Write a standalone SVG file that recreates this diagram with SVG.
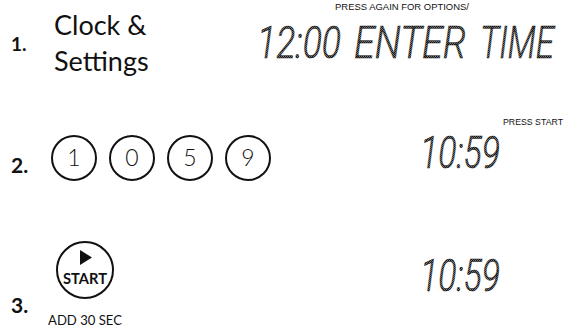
<svg xmlns="http://www.w3.org/2000/svg" width="568" height="328" viewBox="0 0 568 328">
<defs>
<pattern id="hatch" width="2" height="2" patternUnits="userSpaceOnUse">
<rect width="2" height="2" fill="#777"/>
<rect width="1" height="1" fill="#111"/>
<rect x="1" y="1" width="1" height="1" fill="#222"/>
</pattern>
</defs>
<style>
.step{font-family:"Lato","Noto Sans","Liberation Sans",sans-serif;fill:#111;font-weight:700}
.lbl{font-family:"Lato","Noto Sans","Liberation Sans",sans-serif;fill:#111}
.small{font-family:"Liberation Sans",Arial,sans-serif;fill:#111;font-size:8.5px}
.lcd{font-family:"Roboto","Liberation Sans Narrow","Liberation Sans",sans-serif;font-style:italic;font-weight:300;font-size:45px;fill:url(#hatch);stroke:#111;stroke-width:0.5}
.btn{fill:none;stroke:#111;stroke-width:2}
.digit{font-family:"Lato","Noto Sans","Liberation Sans",sans-serif;fill:#111;font-size:23px;font-weight:300;text-anchor:middle}
</style>
<rect width="568" height="328" fill="#fff"/>
<g id="step1">
<text class="step" x="11" y="51" font-size="19">1.</text>
<text class="lbl" x="54" y="35" font-size="27">Clock &amp;</text>
<text class="lbl" x="54" y="71" font-size="27">Settings</text>
</g>
<g id="display1">
<text class="small" x="335" y="10" textLength="134" lengthAdjust="spacingAndGlyphs">PRESS AGAIN FOR OPTIONS/</text>
<text class="lcd" x="257" y="58" textLength="84" lengthAdjust="spacingAndGlyphs">12:00</text>
<text class="lcd" x="354" y="58" textLength="112" lengthAdjust="spacingAndGlyphs">ENTER</text>
<text class="lcd" x="480" y="58" textLength="74" lengthAdjust="spacingAndGlyphs">TIME</text>
</g>
<g id="step2">
<text class="step" x="11" y="173" font-size="21">2.</text>
</g>
<g id="btn1"><circle class="btn" cx="74" cy="158" r="22"/><text class="digit" x="74" y="166">1</text></g>
<g id="btn0"><circle class="btn" cx="132" cy="158" r="22"/><text class="digit" x="132" y="166">0</text></g>
<g id="btn5"><circle class="btn" cx="190" cy="158" r="22"/><text class="digit" x="190" y="166">5</text></g>
<g id="btn9"><circle class="btn" cx="248" cy="158" r="22"/><text class="digit" x="248" y="166">9</text></g>
<g id="display2">
<text class="small" x="563" y="125" text-anchor="end" textLength="60" lengthAdjust="spacingAndGlyphs">PRESS START</text>
<text class="lcd" x="420" y="168" textLength="80" lengthAdjust="spacingAndGlyphs">10:59</text>
</g>
<g id="step3">
<text class="step" x="11" y="313" font-size="21">3.</text>
</g>
<g id="btnStart">
<circle class="btn" cx="85" cy="270" r="28"/>
<polygon points="80,250 92,257.5 80,265" fill="#111"/>
<text class="lbl" x="85" y="284" font-size="15" font-weight="700" text-anchor="middle" textLength="44" lengthAdjust="spacingAndGlyphs">START</text>
<text class="lbl" x="85" y="325" font-size="13" text-anchor="middle" textLength="74" lengthAdjust="spacingAndGlyphs">ADD 30 SEC</text>
</g>
<g id="display3">
<text class="lcd" x="420" y="291" textLength="80" lengthAdjust="spacingAndGlyphs">10:59</text>
</g>
<g id="connectors"></g>
</svg>
